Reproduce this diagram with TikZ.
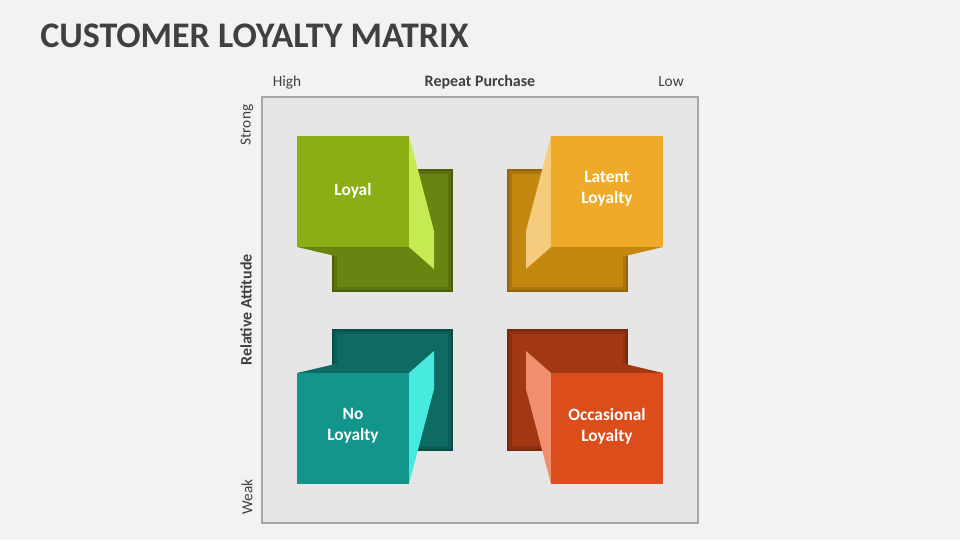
\documentclass[tikz,border=0pt]{standalone}
\usepackage{fontspec}
\setmainfont{Carlito}
\usetikzlibrary{positioning}
\definecolor{bgcol}{HTML}{F2F2F2}
\definecolor{panel}{HTML}{E6E6E6}
\definecolor{panelline}{HTML}{A6A6A6}
\definecolor{txtgray}{HTML}{404040}
\definecolor{grnfront}{HTML}{8AAE14}
\definecolor{grnback}{HTML}{6A8412}
\definecolor{grnedge}{HTML}{4B5E08}
\definecolor{grnside}{HTML}{C6EA52}
\definecolor{orgfront}{HTML}{F0AA2A}
\definecolor{orgback}{HTML}{C48710}
\definecolor{orgedge}{HTML}{94650A}
\definecolor{orgside}{HTML}{F5CB7D}
\definecolor{tealfront}{HTML}{12958A}
\definecolor{tealback}{HTML}{0E6B63}
\definecolor{tealedge}{HTML}{094C46}
\definecolor{tealside}{HTML}{48EADF}
\definecolor{redfront}{HTML}{DB4D1A}
\definecolor{redback}{HTML}{A33815}
\definecolor{rededge}{HTML}{77280D}
\definecolor{redside}{HTML}{F0906F}

\begin{document}
\begin{tikzpicture}[x=0.75pt, y=-0.75pt,
    axislabel/.style={font=\fontsize{11.5}{13}\selectfont, text=txtgray, inner sep=0pt},
    axistitle/.style={font=\bfseries\fontsize{12}{14}\selectfont, text=txtgray, inner sep=0pt},
    boxtext/.style={font=\bfseries\fontsize{13}{15.5}\selectfont, text=white, align=center}]
    \fill [bgcol] (0,0) rectangle (960,540);
    \useasboundingbox (0,0) rectangle (960,540);
    \node at (40,47) [anchor = base west, inner sep=0pt, text=txtgray, font=\bfseries\fontsize{27}{32}\selectfont] (title) {CUSTOMER LOYALTY MATRIX};
    \draw [fill=panel, draw=panelline, line width=0.9pt] (262,97) rectangle (698,523);
    \node at (287,86) [axislabel, anchor = base] (high) {High};
    \node at (480,86) [axistitle, anchor = base] (repeat) {Repeat Purchase};
    \node at (671,86) [axislabel, anchor = base] (low) {Low};
    \node at (247,125) [axislabel, rotate=90] (strong) {Strong};
    \node at (246,310) [axistitle, rotate=90] (attitude) {Relative Attitude};
    \node at (247,497) [axislabel, rotate=90] (weak) {Weak};

    \fill [grnedge] (332,169) rectangle (453,292);
    \fill [grnedge!50!grnback] (334,171) rectangle (451,290);
    \fill [grnback] (337,174) rectangle (448,287);
    \fill [grnback] (297,247) -- (409,247) -- (434,269) -- (395,270) -- cycle;
    \fill [grnside] (409,136) -- (434,231) -- (434,269) -- (409,247) -- cycle;
    \fill [grnfront] (297,136) rectangle (409,247);
    \node at (353,191) [boxtext] (loyal) {Loyal};

    \fill [orgedge] (507,169) rectangle (628,292);
    \fill [orgedge!50!orgback] (509,171) rectangle (626,290);
    \fill [orgback] (512,174) rectangle (623,287);
    \fill [orgback] (551,247) -- (663,247) -- (566,270) -- (526,269) -- cycle;
    \fill [orgside] (551,136) -- (526,231) -- (526,269) -- (551,247) -- cycle;
    \fill [orgfront] (551,136) rectangle (663,247);
    \node at (607,189) [boxtext] (latent) {Latent\\Loyalty};

    \fill [tealedge] (332,329) rectangle (453,451);
    \fill [tealedge!50!tealback] (334,331) rectangle (451,449);
    \fill [tealback] (337,334) rectangle (448,446);
    \fill [tealback] (297,373) -- (409,373) -- (434,351) -- (395,350) -- cycle;
    \fill [tealside] (409,373) -- (434,351) -- (434,389) -- (409,484) -- cycle;
    \fill [tealfront] (297,373) rectangle (409,484);
    \node at (353,426) [boxtext] (noloyal) {No\\Loyalty};

    \fill [rededge] (507,329) rectangle (628,451);
    \fill [rededge!50!redback] (509,331) rectangle (626,449);
    \fill [redback] (512,334) rectangle (623,446);
    \fill [redback] (551,373) -- (663,373) -- (566,350) -- (526,351) -- cycle;
    \fill [redside] (551,373) -- (526,351) -- (526,389) -- (551,484) -- cycle;
    \fill [redfront] (551,373) rectangle (663,484);
    \node at (607,426) [boxtext] (occasional) {Occasional\\Loyalty};
\end{tikzpicture}
\end{document}
